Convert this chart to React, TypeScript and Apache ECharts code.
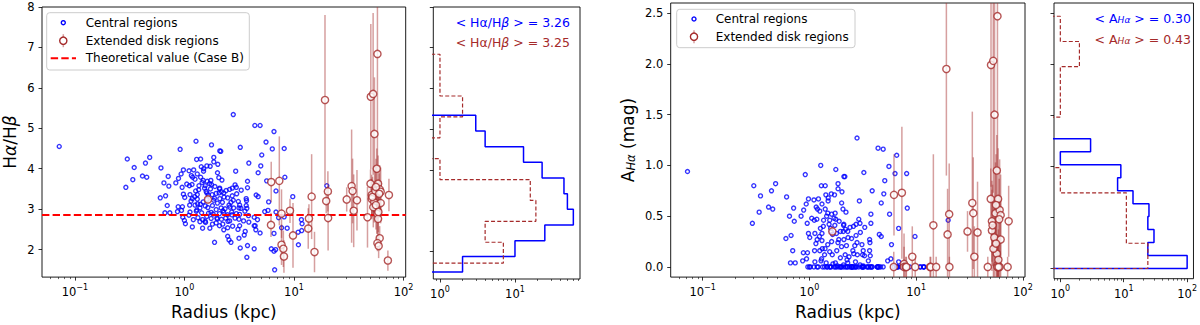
import React, { useEffect, useRef } from 'react';
import * as echarts from 'echarts';

const FONT = 'DejaVu Sans';
const BLUE = '#0000ff';
const BROWN = '#a52a2a';
const ERRCOL = 'rgba(165,42,42,0.45)';

// [radius kpc, Halpha/Hbeta, A_Halpha mag]
const centralRegions: number[][] = [
  [0.072,4.55,0.94],[0.292,3.54,0.43],[0.301,4.24,0.80],[0.338,3.73,0.54],[0.348,4.03,0.70],[0.414,3.82,0.59],[0.441,4.14,0.75],[0.453,3.79,0.57],[0.482,4.28,0.82],[0.602,3.28,0.28],[0.611,4.02,0.69],[0.650,3.65,0.50],[0.664,2.91,0.04],[0.673,3.33,0.31],[0.697,3.09,0.16],[0.711,3.81,0.58],[0.721,3.57,0.45],[0.736,2.91,0.04],
  [0.835,3.65,0.50],[0.864,2.94,0.06],[0.877,3.06,0.14],[0.883,3.76,0.56],[0.914,4.48,0.91],[0.933,3.87,0.62],[0.940,2.97,0.08],[0.953,3.54,0.43],[0.959,3.06,0.14],[0.966,2.80,0],[0.979,3.97,0.67],[0.979,3.37,0.33],[1.0,2.72,0],[1.007,3.29,0.29],[1.021,2.64,0],
  [1.102,3.95,0.66],[1.110,3.58,0.46],[1.117,3.10,0.16],[1.125,3.36,0.33],[1.125,2.93,0.05],[1.157,3.83,0.59],[1.173,3.61,0.47],[1.181,3.26,0.27],[1.181,2.56,0],[1.190,3.79,0.57],[1.206,2.74,0],[1.215,3.97,0.67],[1.241,3.31,0.30],[1.267,3.45,0.38],[1.276,4.68,1.00],[1.284,2.95,0.06],[1.293,4.23,0.80],[1.311,3.87,0.62],[1.311,3.36,0.33],[1.311,3.25,0.26],[1.320,3.13,0.18],[1.329,2.79,0],[1.357,3.58,0.46],[1.386,3.03,0.12],[1.386,2.69,0],[1.406,4.24,0.80],[1.406,3.79,0.57],[1.425,4.05,0.71],[1.435,2.91,0.04],[1.465,2.74,0],[1.465,2.53,0],[1.485,3.71,0.53],[1.485,3.18,0.22],[1.496,3.94,0.65],[1.528,3.52,0.42],[1.549,3.58,0.46],[1.549,3.08,0.15],[1.560,2.67,0],[1.603,4.07,0.72],[1.603,3.40,0.35],[1.615,3.69,0.52],[1.615,3.24,0.25],[1.637,3.04,0.12],[1.660,2.90,0.03],[1.707,2.53,0],[1.719,4.06,0.71],[1.730,3.50,0.41],[1.742,3.71,0.53],[1.754,2.77,0],[1.767,4.59,0.96],[1.767,3.61,0.47],[1.791,3.36,0.33],[1.803,3.09,0.16],[1.803,2.63,0],[1.828,2.88,0.01],[1.854,4.28,0.82],[1.854,4.17,0.77],[1.884,3.27,0.27],[1.884,2.18,0],[1.950,3.39,0.35],[1.950,2.99,0.09],[1.977,2.78,0],
  [2.004,3.90,0.63],[2.018,4.11,0.74],[2.061,3.78,0.57],[2.075,3.40,0.35],[2.089,3.50,0.41],[2.089,2.89,0.02],[2.089,2.59,0],[2.104,4.44,0.89],[2.104,3.26,0.27],[2.148,4.43,0.89],[2.163,3.03,0.12],[2.178,3.43,0.37],[2.178,2.75,0],[2.223,3.17,0.21],[2.239,2.63,0],[2.286,3.40,0.35],[2.286,2.92,0.04],[2.286,2.49,0],[2.350,3.01,0.10],[2.382,2.78,0],[2.483,3.28,0.28],[2.483,2.86,0],[2.483,2.54,0],[2.483,2.33,0],[2.553,3.10,0.16],[2.553,2.24,0],[2.588,3.49,0.40],[2.588,2.71,0],[2.661,3.17,0.21],[2.661,2.18,0],[2.716,2.86,0],[2.735,3.52,0.42],[2.735,3.33,0.31],[2.754,2.58,0],[2.793,5.34,1.27],[2.793,3.22,0.24],[2.812,3.03,0.12],[2.938,3.94,0.65],[2.978,3.54,0.43],[2.978,2.89,0.02],
  [3.083,2.50,0],[3.105,3.19,0.22],[3.148,3.03,0.12],[3.148,2.75,0],[3.148,2.28,0],[3.192,3.10,0.16],[3.192,2.87,0.01],[3.192,2.59,0],[3.236,4.53,0.93],[3.236,2.04,0],[3.281,3.02,0.11],[3.467,2.71,0],[3.516,2.36,0],[3.565,2.95,0.06],[3.589,2.45,0],[3.664,3.26,0.27],[3.664,3.09,0.16],[3.690,3.21,0.24],[3.715,3.02,0.11],[3.715,1.81,0],[3.767,3.69,0.52],[3.767,3.53,0.43],[3.767,2.10,0],[3.846,2.84,0],[3.873,4.14,0.75],[3.873,2.68,0],
  [4.335,2.80,0],[4.335,2.59,0],[4.335,2.02,0],[4.395,5.07,1.17],[4.426,2.59,0],[4.487,2.49,0],[4.518,3.35,0.32],[4.645,2.74,0],[4.709,3.90,0.63],[4.709,3.31,0.30],[4.909,5.07,1.16],[4.909,2.41,0],[4.977,4.07,0.72],[5.081,4.34,0.85],[5.408,2.94,0.06],[5.559,4.66,0.99],[5.636,3.70,0.52],[5.794,2.97,0.08],[5.875,3.18,0.22],
  [6.211,2.02,0],[6.342,4.49,0.92],[6.572,4.92,1.10],[6.572,2.40,0],[6.572,1.96,0],[6.663,1.50,0],[6.807,2.00,0],[6.855,3.45,0.38],[6.855,2.93,0.05],[7.244,2.79,0],[7.709,2.54,0],[8.147,4.50,0.92],[8.147,2.81,0],[8.670,2.53,0],[9.753,3.31,0.30],[8.26,3.79,0.58],[10.91,2.43,0],[10.98,2.12,0],[11.69,2.74,0],[11.77,2.47,0],[11.86,2.64,0],[19.95,3.58,0.46],
  [1.05,3.62,0.48],[1.35,3.48,0.40],[1.45,3.66,0.50],[1.58,3.44,0.38],[1.9,3.56,0.45],[2.2,3.72,0.54],[2.4,3.46,0.39],[2.9,3.60,0.47],[1.25,3.74,0.55],[1.7,3.63,0.48],[3.3,3.47,0.39],[2.1,3.52,0.42],
  [1.5,4.00,0.68],
  [1.15,3.20,0.23],[1.4,3.12,0.18],[1.65,3.35,0.32],[2.0,3.15,0.20],[2.3,3.30,0.29],[2.6,3.05,0.13],[1.85,3.22,0.24],[3.0,3.38,0.34],[1.25,3.10,0.16],
  [1.1,2.85,0],[1.3,2.98,0.08],[1.55,2.70,0],[1.75,2.92,0.04],[2.0,2.76,0],[2.25,2.96,0.07],[2.5,2.70,0],[2.7,2.93,0.05],[1.95,2.66,0],[1.6,2.82,0],[2.9,2.78,0],
];

// [radius kpc, Halpha/Hbeta, error, A_Halpha mag, error]
const extendedRegions: number[][] = [
  [1.64,3.24,0.1,0.35,0.05],[6.2,3.67,0.5,0.71,0.4],[6.17,2.61,0.3,0,0.15],[7.35,3.70,1.1,0.73,0.65],[7.7,2.89,0.6,0.03,0.3],
  [7.7,2.12,0.5,0,0.2],[8.0,2.02,0.45,0,0.1],[8.1,1.83,0.4,0,0.1],[9.2,2.96,0.3,0.10,0.3],[9.8,2.35,0.8,0,0.1],
  [13.5,2.52,0.5,0,0.1],[13.7,2.77,0.35,0,0.1],[14.5,3.31,1.05,0.41,0.7],[15.4,1.94,0.5,0,0.1],[19.2,5.70,2.1,1.95,1.05],
  [19.7,3.20,0.3,0.32,0.45],[20.4,3.44,0.5,0.52,0.5],[20.5,2.78,0.8,0,0.1],[30.3,3.24,0.3,0.35,0.2],[33.6,3.57,1.4,0.63,0.9],
  [34.3,3.45,0.8,0.53,0.55],[35.1,2.96,0.9,0.10,0.3],[37.6,3.22,0.75,0.34,0.5],[46.9,2.80,0.75,0,0.1],[50.0,3.63,0.35,0.67,0.3],
  [50.3,5.78,1.8,1.99,1.2],[52.8,5.85,2.0,2.03,1.3],[51.3,3.35,0.5,0.45,0.4],[51.3,3.25,0.5,0.36,0.4],[54.3,4.86,1.4,1.50,1.2],
  [54.0,3.17,0.5,0.29,0.4],[55.4,3.45,0.6,0.53,0.5],[57.0,4.00,0.5,0.95,0.35],[57.8,6.84,2.8,2.47,1.5],[57.0,2.99,0.6,0.13,0.3],
  [57.8,2.88,0.5,0.02,0.3],[58.6,2.76,0.6,0,0.2],[58.6,3.63,0.7,0.67,0.5],[60.6,3.49,0.6,0.56,0.5],[61.9,3.43,0.6,0.51,0.4],
  [61.9,3.15,0.5,0.27,0.4],[60.6,2.28,0.3,0,0.1],[57.8,2.16,0.2,0,0.1],[59.3,2.09,0.3,0,0.1],[72.0,1.73,0.25,0,0.1],
  [73.6,3.35,0.4,0.45,0.35],[53.0,3.05,0.5,0.18,0.4],[56.0,3.10,0.6,0.23,0.4],[59.0,2.93,0.5,0.07,0.3],[52.0,3.30,0.5,0.41,0.4],
  [56.0,3.55,0.7,0.61,0.5],[60.0,3.38,0.5,0.47,0.4],
];

const caseBRatio = 2.86;

const ratioEdgesCentral = [1.49, 1.875, 2.26, 2.645, 3.03, 3.415, 3.80, 4.185, 4.57, 4.955, 5.34];
const ratioCountsCentral = [2, 10, 25, 60, 50, 45, 23, 13, 4, 3];
const ratioEdgesExtended = [1.71, 2.223, 2.736, 3.249, 3.762, 4.275, 4.788, 5.301, 5.814, 6.327, 6.84];
const ratioCountsExtended = [7, 4, 19, 16, 1, 0, 1, 2, 1, 1];
const aEdgesCentral = [0, 0.127, 0.254, 0.381, 0.508, 0.635, 0.762, 0.889, 1.016, 1.143, 1.27];
const aCountsCentral = [100, 24, 30, 24, 25, 14, 8, 9, 1, 3];
const aEdgesExtended = [0, 0.247, 0.494, 0.741, 0.988, 1.235, 1.482, 1.729, 1.976, 2.223, 2.47];
const aCountsExtended = [24, 11, 11, 1, 0, 0, 1, 1, 2, 1];

const meanRatioCentral = '3.26';
const meanRatioExtended = '3.25';
const meanACentral = '0.30';
const meanAExtended = '0.43';

const ratioTicks = [2, 3, 4, 5, 6, 7, 8];
const aTicks = [0, 0.5, 1, 1.5, 2, 2.5];

const lg = Math.log10;

const minorTicks = (lo: number, hi: number) => {
  const out: number[] = [];
  for (let e = -2; e <= 2; e++) {
    for (let k = 2; k <= 9; k++) {
      const v = lg(k) + e;
      if (v > lo && v < hi) out.push(v);
    }
  }
  return out;
};

const stepPath = (edges: number[], counts: number[], floor: number) => {
  const lv = (c: number) => (c > 0 ? lg(c) : floor);
  const pts: number[][] = [[floor, edges[0]]];
  counts.forEach((c, i) => {
    pts.push([lv(c), edges[i]], [lv(c), edges[i + 1]]);
  });
  pts.push([floor, edges[edges.length - 1]]);
  return pts;
};

const tickLine = { color: '#000', width: 0.8 };

const expRich = {
  b: { fontSize: 11.5, fontFamily: FONT, color: '#000', lineHeight: 15, verticalAlign: 'bottom' },
  s: { fontSize: 8, fontFamily: FONT, color: '#000', lineHeight: 9, verticalAlign: 'top' },
};

const makeXAxes = (gridIndex: number, min: number, max: number, majors: number[], name?: string) => [
  {
    type: 'value', gridIndex, min, max, position: 'bottom',
    axisLine: { show: false, onZero: false }, splitLine: { show: false },
    axisTick: { show: true, customValues: majors, length: 3.5, lineStyle: tickLine },
    axisLabel: {
      show: true, customValues: majors, margin: 6,
      formatter: (v: number) => `{b|10}{s|${v < 0 ? '\u2212' + Math.abs(Math.round(v)) : Math.round(v)}}`,
      rich: expRich,
    },
    name: name || '', nameLocation: 'middle', nameGap: 25,
    nameTextStyle: { fontSize: 17, fontFamily: FONT, color: '#000' },
  },
  {
    type: 'value', gridIndex, min, max, position: 'bottom', offset: 0,
    axisLine: { show: false, onZero: false }, splitLine: { show: false }, axisLabel: { show: false },
    axisTick: { show: true, customValues: minorTicks(min, max), length: 2, lineStyle: { color: '#000', width: 0.6 } },
  },
];

const makeYAxis = (gridIndex: number, min: number, max: number, ticks: number[], showLabels: boolean, fmt: (v: number) => string, name?: string, nameGap?: number, rich?: any) => ({
  type: 'value', gridIndex, min, max, position: 'left',
  axisLine: { show: false, onZero: false }, splitLine: { show: false },
  axisTick: { show: true, customValues: ticks, length: 3.5, lineStyle: tickLine },
  axisLabel: { show: showLabels, customValues: ticks, formatter: fmt, margin: 7.5, fontSize: 11.5, fontFamily: FONT, color: '#000' },
  name: name || '', nameLocation: 'middle', nameGap: nameGap || 20, nameRotate: 90,
  nameTextStyle: { fontSize: 17, fontFamily: FONT, color: '#000', rich: rich || {} },
});

const errorBars = (xi: number, yi: number, data: number[][]) => ({
  type: 'custom', xAxisIndex: xi, yAxisIndex: yi, clip: true, z: 4, silent: true,
  data,
  encode: { x: 0, y: 1 },
  renderItem: (_p: any, api: any) => {
    const x = api.value(0), y = api.value(1), e = api.value(2);
    const a = api.coord([x, y - e]);
    const b = api.coord([x, y + e]);
    return { type: 'line', shape: { x1: a[0], y1: a[1], x2: b[0], y2: b[1] }, style: { stroke: ERRCOL, lineWidth: 1.5 } };
  },
});

const txt = (x: number, y: number, text: string, size: number, fill: string, align: string, rich?: any) => ({
  type: 'text', x, y, z: 100,
  style: {
    text, fill, fontSize: size, fontFamily: FONT, align, verticalAlign: 'middle',
    textAlign: align, textVerticalAlign: 'middle', rich: rich || {},
  },
});

const legendBox = (x: number, y: number, w: number, h: number) => ({
  type: 'rect', z: 90, shape: { x, y, width: w, height: h, r: 3 },
  style: { fill: 'rgba(255,255,255,0.8)', stroke: '#cccccc', lineWidth: 1 },
});

const legendEntries = (mx: number, tx: number, y1: number, y2: number) => [
  { type: 'circle', z: 95, shape: { cx: mx, cy: y1, r: 2 }, style: { fill: 'none', stroke: BLUE, lineWidth: 1.4 } },
  txt(tx, y1, 'Central regions', 12, '#000', 'left'),
  { type: 'line', z: 94, shape: { x1: mx, y1: y2 - 6.5, x2: mx, y2: y2 + 6.5 }, style: { stroke: ERRCOL, lineWidth: 1.5 } },
  { type: 'circle', z: 95, shape: { cx: mx, cy: y2, r: 3.6 }, style: { fill: '#fff', stroke: BROWN, lineWidth: 1.4 } },
  txt(tx, y2, 'Extended disk regions', 12, '#000', 'left'),
];

const italicRich = (size: number, color: string) => ({
  i: { fontStyle: 'italic', fontSize: size, fontFamily: FONT, color },
});
const subRich = (size: number, sub: number, color: string) => ({
  sub: { fontStyle: 'italic', fontSize: sub, fontFamily: FONT, color, verticalAlign: 'bottom', lineHeight: size * 0.95 },
});

export default function App() {
  const ref = useRef<HTMLDivElement>(null);
  useEffect(() => {
    if (!ref.current) return;
    const chart = echarts.init(ref.current, undefined, { renderer: 'svg' });
    const xL: [number, number] = [-1.30, 2.02];
    const xH1: [number, number] = [-0.089, 1.867];
    const xH2: [number, number] = [-0.1, 2.1];
    const yR: [number, number] = [1.32, 8];
    const yA: [number, number] = [-0.1, 2.6];

    const blueStyle = { color: 'rgba(0,0,0,0)', borderColor: BLUE, borderWidth: 1.4 };
    const redStyle = { color: '#fff', borderColor: BROWN, borderWidth: 1.4 };

    const option: any = {
      animation: false,
      textStyle: { fontFamily: FONT },
      grid: [
        { left: 40.5, top: 7, width: 365.2, height: 272, show: true, borderColor: '#000', borderWidth: 0.9, backgroundColor: 'transparent' },
        { left: 433.3, top: 7, width: 146.7, height: 272, show: true, borderColor: '#000', borderWidth: 0.9, backgroundColor: 'transparent' },
        { left: 670.7, top: 3, width: 354.3, height: 275.7, show: true, borderColor: '#000', borderWidth: 0.9, backgroundColor: 'transparent' },
        { left: 1054, top: 3, width: 141.7, height: 275.7, show: true, borderColor: '#000', borderWidth: 0.9, backgroundColor: 'transparent' },
      ],
      xAxis: [
        ...makeXAxes(0, xL[0], xL[1], [-1, 0, 1, 2], 'Radius (kpc)'),
        ...makeXAxes(1, xH1[0], xH1[1], [0, 1]),
        ...makeXAxes(2, xL[0], xL[1], [-1, 0, 1, 2], 'Radius (kpc)'),
        ...makeXAxes(3, xH2[0], xH2[1], [0, 1, 2]),
      ],
      yAxis: [
        makeYAxis(0, yR[0], yR[1], ratioTicks, true, (v) => String(v), 'H{i|α}/H{i|β}', 24, italicRich(17, '#000')),
        makeYAxis(1, yR[0], yR[1], ratioTicks, false, (v) => String(v)),
        makeYAxis(2, yA[0], yA[1], aTicks, true, (v) => v.toFixed(1), 'A{sub|Hα} (mag)', 34, subRich(17, 11.5, '#000')),
        makeYAxis(3, yA[0], yA[1], aTicks, false, (v) => v.toFixed(1)),
      ],
      series: [
        {
          name: 'Central regions', type: 'scatter', xAxisIndex: 0, yAxisIndex: 0, z: 2,
          data: centralRegions.map((d) => [lg(d[0]), d[1]]),
          symbol: 'circle', symbolSize: 4, itemStyle: blueStyle,
        },
        {
          name: 'Theoretical value (Case B)', type: 'line', xAxisIndex: 0, yAxisIndex: 0, z: 3, data: [],
          markLine: {
            silent: true, symbol: ['none', 'none'], label: { show: false },
            lineStyle: { color: '#ff0000', width: 2, type: [7.4, 3.2] },
            data: [{ yAxis: caseBRatio }],
          },
        },
        errorBars(0, 0, extendedRegions.map((d) => [lg(d[0]), d[1], d[2]])),
        {
          name: 'Extended disk regions', type: 'scatter', xAxisIndex: 0, yAxisIndex: 0, z: 5,
          data: extendedRegions.map((d) => [lg(d[0]), d[1]]),
          symbol: 'circle', symbolSize: 7.2, itemStyle: redStyle,
        },
        {
          type: 'line', xAxisIndex: 2, yAxisIndex: 1, z: 3, clip: true, symbol: 'none', showSymbol: false,
          data: stepPath(ratioEdgesCentral, ratioCountsCentral, -1.5),
          lineStyle: { color: BLUE, width: 1.5 },
        },
        {
          type: 'line', xAxisIndex: 2, yAxisIndex: 1, z: 4, clip: true, symbol: 'none', showSymbol: false,
          data: stepPath(ratioEdgesExtended, ratioCountsExtended, -1.5),
          lineStyle: { color: BROWN, width: 1.2, type: [4, 2.2] },
        },
        {
          name: 'Central regions', type: 'scatter', xAxisIndex: 4, yAxisIndex: 2, z: 2,
          data: centralRegions.map((d) => [lg(d[0]), d[2]]),
          symbol: 'circle', symbolSize: 4, itemStyle: blueStyle,
        },
        errorBars(4, 2, extendedRegions.map((d) => [lg(d[0]), d[3], d[4]])),
        {
          name: 'Extended disk regions', type: 'scatter', xAxisIndex: 4, yAxisIndex: 2, z: 5,
          data: extendedRegions.map((d) => [lg(d[0]), d[3]]),
          symbol: 'circle', symbolSize: 7.2, itemStyle: redStyle,
        },
        {
          type: 'line', xAxisIndex: 6, yAxisIndex: 3, z: 3, clip: true, symbol: 'none', showSymbol: false,
          data: stepPath(aEdgesCentral, aCountsCentral, -1.5),
          lineStyle: { color: BLUE, width: 1.5 },
        },
        {
          type: 'line', xAxisIndex: 6, yAxisIndex: 3, z: 4, clip: true, symbol: 'none', showSymbol: false,
          data: stepPath(aEdgesExtended, aCountsExtended, -1.5),
          lineStyle: { color: BROWN, width: 1.2, type: [4, 2.2] },
        },
      ],
      graphic: [
        legendBox(46.7, 12.7, 202.6, 57.3),
        ...legendEntries(63.3, 85.7, 22.7, 40.7),
        { type: 'line', z: 95, shape: { x1: 50.7, y1: 58.3, x2: 76, y2: 58.3 }, style: { stroke: '#ff0000', lineWidth: 2, lineDash: [7.4, 3.2] } },
        txt(85.7, 58.3, 'Theoretical value (Case B)', 12, '#000', 'left'),
        legendBox(676.7, 9.3, 178.3, 38.4),
        ...legendEntries(694, 715.7, 19, 36.7),
        txt(570, 22.7, `< Hα/H{i|β} > = ${meanRatioCentral}`, 12.5, BLUE, 'right', italicRich(12.5, BLUE)),
        txt(570, 42.3, `< Hα/H{i|β} > = ${meanRatioExtended}`, 12.5, BROWN, 'right', italicRich(12.5, BROWN)),
        txt(1191, 18.3, `< A{sub|Hα} > = ${meanACentral}`, 12.5, BLUE, 'right', subRich(12.5, 9, BLUE)),
        txt(1191, 39, `< A{sub|Hα} > = ${meanAExtended}`, 12.5, BROWN, 'right', subRich(12.5, 9, BROWN)),
      ],
    };
    chart.setOption(option);
    return () => chart.dispose();
  }, []);
  return (
    <div
      ref={ref}
      style={{ position: 'fixed', left: 0, top: 0, width: 1200, height: 325, background: '#fff' }}
    />
  );
}
